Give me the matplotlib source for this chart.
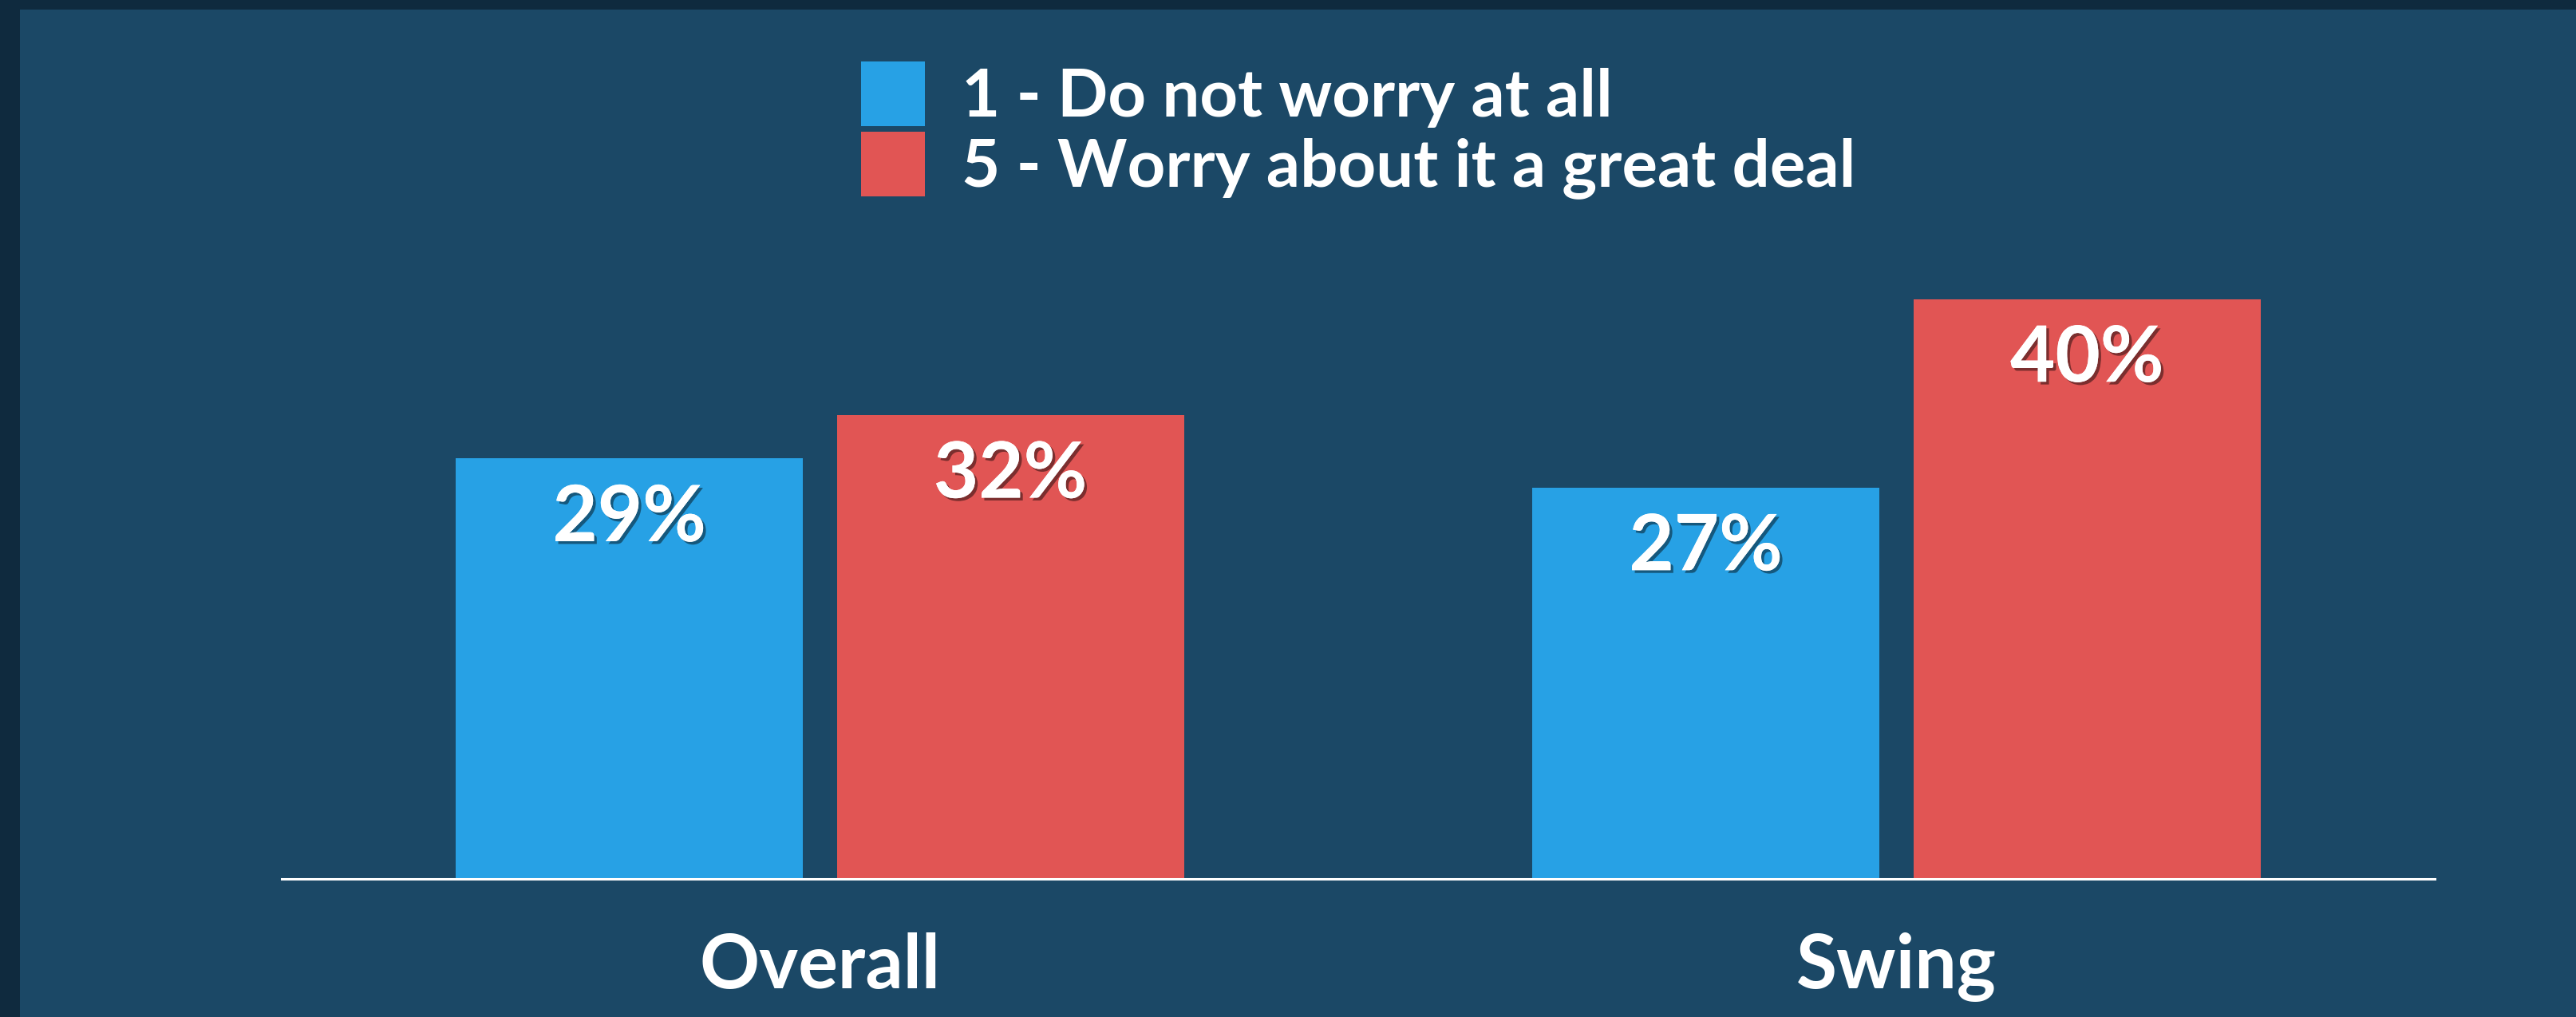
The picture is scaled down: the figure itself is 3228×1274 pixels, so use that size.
import matplotlib
matplotlib.use("Agg")
import matplotlib.pyplot as plt
import matplotlib.patheffects as pe
from matplotlib.patches import Rectangle
import numpy as np

categories = ["Overall", "Swing"]
series_names = ["1 - Do not worry at all", "5 - Worry about it a great deal"]
not_worry = [29, 27]
worry_great = [32, 40]
value_labels_nw = ["29%", "27%"]
value_labels_wg = ["32%", "40%"]

BLUE = "#27a1e5"
RED = "#e15554"
BG = "#1b4866"
DARK = "#0f2a3e"
FONT = "Lato"

W, H = 3228, 1274
fig = plt.figure(figsize=(W / 100, H / 100), dpi=100, facecolor=DARK)
bg = Rectangle((25 / W, 0), 1 - 25 / W, 1 - 12 / H, transform=fig.transFigure,
               facecolor=BG, edgecolor="none", zorder=-10)
fig.add_artist(bg)

ax_left = 353 / W
ax_right = 3051 / W
ax_bottom = (H - 1101) / H
ax_top = (H - 193) / H
ax = fig.add_axes([ax_left, ax_bottom, ax_right - ax_left, ax_top - ax_bottom])
ax.set_facecolor("none")
ax.set_zorder(1)

x = np.arange(len(categories))
bw = 0.3225
off = 0.177
b1 = ax.bar(x - off, not_worry, bw, color=BLUE, label=series_names[0], zorder=2)
b2 = ax.bar(x + off, worry_great, bw, color=RED, label=series_names[1], zorder=2)

ax.set_xlim(-0.5, 1.5)
ax.set_ylim(0, 50)
for s in ["left", "right", "top"]:
    ax.spines[s].set_visible(False)
ax.spines["bottom"].set_color("white")
ax.spines["bottom"].set_linewidth(2.2)
ax.spines["bottom"].set_zorder(3)
ax.set_yticks([])
ax.set_xticks(x)
ax.set_xticklabels(categories, fontsize=67, fontweight="bold", color="white", family=FONT)
ax.tick_params(axis="x", length=0, pad=48)

shadow = [pe.withSimplePatchShadow(offset=(2.5, -2.5), shadow_rgbFace="black", alpha=0.45), pe.Normal()]
for bars, labels in ((b1, value_labels_nw), (b2, value_labels_wg)):
    for rect, lab in zip(bars, labels):
        cx = rect.get_x() + rect.get_width() / 2
        ax.annotate(lab, (cx, rect.get_height()), xytext=(0, -22), textcoords="offset points",
                    ha="center", va="top", fontsize=70, fontweight="bold", color="white",
                    family=FONT, path_effects=shadow, zorder=4)

leg = fig.legend(handles=[b1, b2], labels=series_names, loc="upper left",
                 bbox_to_anchor=(1079 / W, 1 - 77 / H), frameon=False,
                 prop={"family": FONT, "weight": "bold", "size": 60},
                 handlelength=0.96, handleheight=1.12, handletextpad=0.55,
                 labelspacing=0.06, borderaxespad=0, borderpad=0)
for t in leg.get_texts():
    t.set_color("white")

fig.savefig("out.png", dpi=100, facecolor=DARK)
